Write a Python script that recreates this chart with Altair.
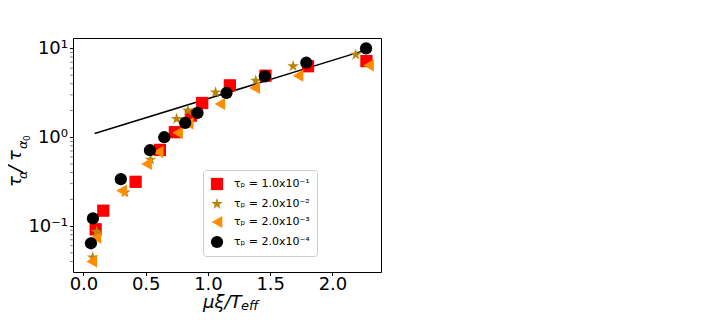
import altair as alt
import pandas as pd

# ---- data ----
labels = ["τₚ = 1.0x10⁻¹", "τₚ = 2.0x10⁻²", "τₚ = 2.0x10⁻³", "τₚ = 2.0x10⁻⁴"]

sq_x = [0.098, 0.159, 0.419, 0.614, 0.734, 0.863, 0.954, 1.176, 1.462, 1.804, 2.273]
sq_y = [0.092, 0.149, 0.315, 0.72, 1.14, 1.75, 2.43, 3.84, 4.93, 6.3, 7.2]

st_x = [0.074, 0.106, 0.333, 0.539, 0.748, 0.839, 1.061, 1.384, 1.684, 2.187]
st_y = [0.0445, 0.086, 0.24, 0.56, 1.61, 2.0, 3.2, 4.34, 6.3, 8.5]

tr_x = [0.066, 0.100, 0.306, 0.507, 0.600, 0.756, 0.841, 1.096, 1.376, 1.724, 2.29]
tr_y = [0.040, 0.074, 0.25, 0.50, 0.68, 1.12, 1.43, 2.37, 3.59, 4.93, 6.44]

ci_x = [0.06, 0.076, 0.30, 0.534, 0.649, 0.817, 0.916, 1.149, 1.457, 1.79, 2.27]
ci_y = [0.064, 0.122, 0.337, 0.714, 1.0, 1.45, 1.88, 3.15, 4.85, 6.9, 10.0]

fit_x = [0.09, 2.26]
fit_y = [1.10, 9.5]

y_major = [0.1, 1, 10]
y_minor = [0.04, 0.05, 0.06, 0.07, 0.08, 0.09, 0.2, 0.3, 0.4, 0.5, 0.6, 0.7, 0.8, 0.9,
           2, 3, 4, 5, 6, 7, 8, 9]
x_ticks = [0.0, 0.5, 1.0, 1.5, 2.0]

STAR = ("M0,-1L0.2245,-0.309L0.951,-0.309L0.363,0.118L0.588,0.809L0,0.382"
        "L-0.588,0.809L-0.363,0.118L-0.951,-0.309L-0.2245,-0.309Z")
shapes = ["square", STAR, "triangle-left", "circle"]
colors = ["#ff0000", "#b8860b", "#ff8c00", "#000000"]

rows = []
for i, (xs, ys) in enumerate([(sq_x, sq_y), (st_x, st_y), (tr_x, tr_y), (ci_x, ci_y)]):
    for a, b in zip(xs, ys):
        rows.append({"px": a, "py": b, "series": labels[i]})
df = pd.DataFrame(rows)
fit_df = pd.DataFrame({"px": fit_x, "py": fit_y})
minor_df = pd.DataFrame({"py": y_minor})

W, H = 308, 234
FONT = "DejaVu Sans"

xscale = alt.Scale(domain=[-0.084, 2.39], nice=False, zero=False)
yscale = alt.Scale(type="log", domain=[0.0304, 13.1], nice=False)

label_expr = "datum.value < 0.5 ? '10⁻¹' : (datum.value < 5 ? '10⁰' : '10¹')"

xaxis = alt.Axis(orient="bottom", values=x_ticks, format=".1f", title=None, grid=False,
                 labelFontSize=18, labelFont=FONT, labelColor="black",
                 tickColor="black", tickSize=3.5, labelPadding=0, domain=False)
yaxis = alt.Axis(orient="left", values=y_major, labelExpr=label_expr, title=None, grid=False,
                 labelFontSize=18, labelFont=FONT, labelColor="black",
                 tickColor="black", tickSize=3.5, labelPadding=2, domain=False)

legend = alt.Legend(title=None, orient="none", legendX=130, legendY=132,
                    labelFont=FONT, labelFontSize=11, labelColor="black",
                    symbolSize=150, rowPadding=6, padding=7, labelOffset=10,
                    strokeColor="#cccccc", fillColor="white", cornerRadius=3)

points = alt.Chart(df).mark_point(filled=True, opacity=1, size=150).encode(
    x=alt.X("px:Q", scale=xscale, axis=xaxis),
    y=alt.Y("py:Q", scale=yscale, axis=yaxis),
    shape=alt.Shape("series:N", scale=alt.Scale(domain=labels, range=shapes), legend=legend),
    color=alt.Color("series:N", scale=alt.Scale(domain=labels, range=colors), legend=legend),
)

fit = alt.Chart(fit_df).mark_line(color="black", strokeWidth=1.5).encode(
    x=alt.X("px:Q", scale=xscale, axis=xaxis),
    y=alt.Y("py:Q", scale=yscale, axis=yaxis),
)

minor = alt.Chart(minor_df).mark_tick(color="black", thickness=0.8, size=2.5).encode(
    y=alt.Y("py:Q", scale=yscale, axis=yaxis),
    x=alt.value(-1.5),
)


def piece(txt, size, x, y, angle=0, style="italic"):
    return alt.Chart(pd.DataFrame({"t": [txt]})).mark_text(
        font=FONT, fontSize=size, fontStyle=style, angle=angle, align="left",
        baseline="alphabetic", color="black").encode(
        text="t:N", x=alt.value(x), y=alt.value(y))


# x-axis title  μξ/T_eff
xt1 = piece("μξ/T", 18, 130, H + 36)
xt2 = piece("eff", 13, 168, H + 38)

# y-axis title  τ_α / τ_{α_0}  (rotated)
yt1 = piece("τ", 18, -52, 149, 270)
yt2 = piece("α", 13, -46, 141, 270)
yt3 = piece("/", 20, -52, 134, 270)
yt4 = piece("τ", 18, -52, 123, 270)
yt5 = piece("α", 13, -46, 111, 270)
yt6 = piece("0", 9, -43, 103, 270, "normal")

chart = alt.layer(
    minor, fit, points, xt1, xt2, yt1, yt2, yt3, yt4, yt5, yt6,
).properties(
    width=W, height=H,
    background="white",
    autosize=alt.AutoSizeParams(type="none"),
    padding={"left": 65, "top": 30, "right": 317, "bottom": 40},
).configure_view(
    stroke="black", strokeWidth=1,
)

chart.save("out.html", embed_options={"renderer": "svg", "actions": False})
